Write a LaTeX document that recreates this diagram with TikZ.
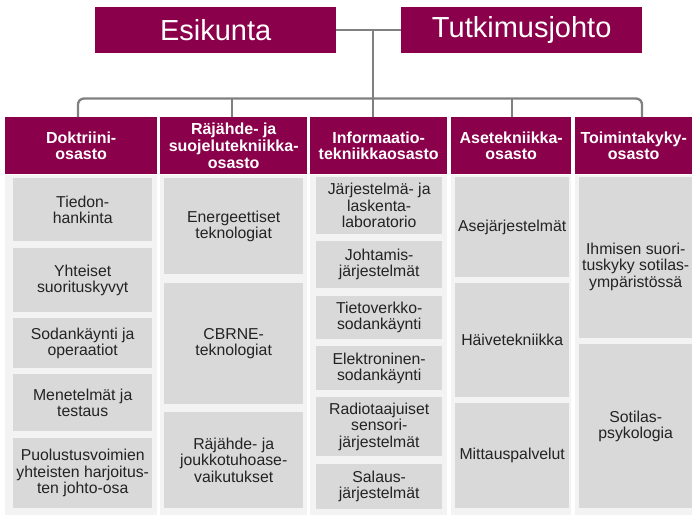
\documentclass[tikz,border=0pt]{standalone}
\usepackage{fontspec}
\setmainfont{Liberation Sans}
\definecolor{maroon}{RGB}{139,0,74}
\definecolor{boxgray}{RGB}{217,217,217}
\definecolor{colbg}{RGB}{243,243,243}
\definecolor{linegray}{RGB}{128,128,128}
\definecolor{boxtext}{RGB}{35,35,35}
\begin{document}
\begin{tikzpicture}[x=1pt,y=-1pt,
  sz/.style 2 args={minimum width=#1pt, minimum height=#2pt},
  topbox/.style={fill=maroon, text=white, inner sep=0pt, anchor=north west,
    font=\fontsize{29}{32}\selectfont},
  headbox/.style={fill=maroon, text=white, inner sep=0pt, anchor=north west,
    align=center, font=\bfseries\fontsize{16}{16.8}\selectfont},
  colbox/.style={fill=colbg, inner sep=0pt, anchor=north west},
  gbox/.style={fill=boxgray, inner sep=0pt, anchor=north west, align=center,
    text=boxtext, font=\fontsize{15.8}{16.4}\selectfont},
  gtext/.style={inner sep=0pt, align=center, text=boxtext,
    font=\fontsize{15.8}{16.4}\selectfont},
  conn/.style={draw=linegray, line width=2.3pt},
]
\useasboundingbox (0,0) rectangle (692,517);

% top boxes
\node[topbox, sz={241}{46}] (esik) at (95,7) {Esikunta};
\node[topbox, sz={241}{46}] (tutk) at (401,7) {Tutkimusjohto};

% column backgrounds
\node[colbox, sz={152}{340}] (cD) at (5,175) {};
\node[colbox, sz={147}{340}] (cR) at (160,175) {};
\node[colbox, sz={137}{340}] (cI) at (310,175) {};
\node[colbox, sz={120}{340}] (cA) at (451,175) {};
\node[colbox, sz={117}{340}] (cT) at (575,175) {};

% headers
\node[headbox, sz={152}{57}] (hD) at (5,117) {Doktriini-\\osasto};
\node[headbox, sz={147}{57}] (hR) at (160,117) {Räjähde- ja\\suojelutekniikka-\\osasto};
\node[headbox, sz={137}{57}] (hI) at (310,117) {Informaatio-\\tekniikkaosasto};
\node[headbox, sz={120}{57}] (hA) at (451,117) {Asetekniikka-\\osasto};
\node[headbox, sz={117}{57}] (hT) at (575,117) {Toimintakyky-\\osasto};

% Doktriini column
\node[gbox, sz={139}{63}] (d1) at (13,178) {Tiedon-\\hankinta};
\node[gbox, sz={139}{64}] (d2) at (13,248) {Yhteiset\\suorituskyvyt};
\node[gbox, sz={139}{50}] (d3) at (13,318) {Sodankäynti ja\\operaatiot};
\node[gbox, sz={139}{57}] (d4) at (13,374) {Menetelmät ja\\testaus};
\node[gbox, sz={139}{70}] (d5) at (13,438) {Puolustusvoimien\\yhteisten harjoitus-\\ten johto-osa};

% Räjähde column
\node[gbox, sz={139}{96}] (r1) at (164,178) {Energeettiset\\teknologiat};
\node[gbox, sz={139}{121}] (r2) at (164,283) {CBRNE-\\teknologiat};
\node[gbox, sz={139}{96}] (r3) at (164,412) {Räjähde- ja\\joukkotuhoase-\\vaikutukset};

% Informaatio column
\node[gbox, sz={126}{57}] (i1) at (316,177) {Järjestelmä- ja\\laskenta-\\laboratorio};
\node[gbox, sz={126}{47}] (i2) at (316,241) {Johtamis-\\järjestelmät};
\node[gbox, sz={126}{43}] (i3) at (316,296) {Tietoverkko-\\sodankäynti};
\node[gbox, sz={126}{44}] (i4) at (316,346) {Elektroninen-\\sodankäynti};
\node[gbox, sz={126}{59}] (i5) at (316,397) {Radiotaajuiset\\sensori-\\järjestelmät};
\node[gbox, sz={126}{45}] (i6) at (316,464) {Salaus-\\järjestelmät};

% Asetekniikka column
\node[gbox, sz={114}{100}] (a1) at (455,177) {Asejärjestelmät};
\node[gbox, sz={114}{114}] (a2) at (455,283) {Häivetekniikka};
\node[gbox, sz={114}{105}] (a3) at (455,403) {Mittauspalvelut};

% Toimintakyky column
\node[gbox, sz={113}{161}] (t1) at (579,177) {};
\node[gtext] (t1txt) at ([yshift=-9pt]t1.center) {Ihmisen suori-\\tuskyky sotilas-\\ympäristössä};
\node[gbox, sz={113}{164}] (t2) at (579,344) {Sotilas-\\psykologia};

% connectors
\coordinate (stem) at (373,30);
\coordinate (busL) at (78,98.5);
\coordinate (busR) at (642,98.5);
\coordinate (dropR) at (232,98.5);
\coordinate (dropA) at (512,98.5);
\draw[conn] (esik.east) -- (tutk.west);
\draw[conn] (stem) -- (hI.north -| stem);
\draw[conn, rounded corners=6pt] (hD.north -| busL) -- (busL) -- (busR) -- (hT.north -| busR);
\draw[conn] (dropR) -- (hR.north -| dropR);
\draw[conn] (dropA) -- (hA.north -| dropA);
\end{tikzpicture}
\end{document}
